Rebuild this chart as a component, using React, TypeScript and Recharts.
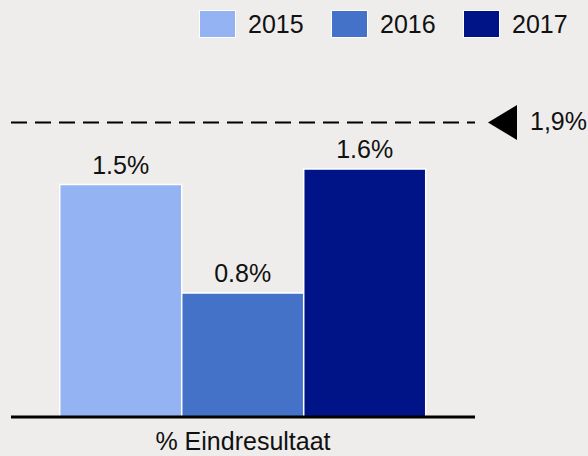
import { Bar, BarChart, LabelList, Legend, ReferenceLine, XAxis, YAxis } from "recharts";

const categories = ["% Eindresultaat"];
const years = ["2015", "2016", "2017"];
const values2015 = [1.5];
const values2016 = [0.8];
const values2017 = [1.6];
const target = 1.9;
const targetLabel = "1,9%";

const colors = ["#93b3f3", "#4472c8", "#001487"];
const font = "'Liberation Sans', Arial, sans-serif";

const data = categories.map((name, i) => ({
  name,
  y2015: values2015[i],
  y2016: values2016[i],
  y2017: values2017[i],
}));

const fmt = (v: number) => `${v.toFixed(1)}%`;

function LegendBox() {
  return (
    <div
      style={{
        display: "flex",
        justifyContent: "flex-end",
        alignItems: "center",
        height: 40,
        paddingTop: 8,
        paddingRight: 18,
        boxSizing: "border-box",
        fontFamily: font,
        fontSize: 25,
        color: "#111",
      }}
    >
      {years.map((y, i) => (
        <div key={y} style={{ display: "flex", alignItems: "center", marginLeft: i ? 25 : 0 }}>
          <div
            style={{
              width: 35,
              height: 26,
              background: colors[i],
              border: "1.5px solid #fff",
              marginRight: 12,
            }}
          />
          <span style={{ display: "inline-block", width: 58 }}>{y}</span>
        </div>
      ))}
    </div>
  );
}

function TargetMark(props: any) {
  const { viewBox } = props;
  const x = viewBox.x + viewBox.width + 13;
  const y = viewBox.y;
  return (
    <g>
      <polygon points={`${x},${y} ${x + 29},${y - 17.5} ${x + 29},${y + 17.5}`} fill="#000" />
      <text x={x + 42} y={y + 7} fontSize={25} fontFamily={font} fill="#111">
        {targetLabel}
      </text>
    </g>
  );
}

export default function App() {
  return (
    <div
      style={{
        position: "absolute",
        left: 0,
        top: 0,
        width: 588,
        height: 456,
        background: "#eeedeb",
      }}
    >
      <BarChart
        width={588}
        height={456}
        data={data}
        margin={{ top: 5, right: 113, bottom: 0, left: 11 }}
        barCategoryGap="10.5%"
        barGap={0}
      >
        <Legend
          verticalAlign="top"
          align="right"
          content={<LegendBox />}
          wrapperStyle={{ left: 0, top: 0, width: 588 }}
        />
        <XAxis
          dataKey="name"
          height={39}
          axisLine={{ stroke: "#000", strokeWidth: 3 }}
          tickLine={false}
          tickMargin={9}
          tick={{ fill: "#111", fontSize: 25, fontFamily: font }}
        />
        <YAxis hide domain={[0, 2.4]} />
        <ReferenceLine
          y={target}
          stroke="#000"
          strokeWidth={2}
          strokeDasharray="16 8"
          label={<TargetMark />}
        />
        {years.map((y, i) => (
          <Bar
            key={y}
            dataKey={`y${y}`}
            name={y}
            fill={colors[i]}
            stroke="#fff"
            strokeWidth={1.5}
            isAnimationActive={false}
          >
            <LabelList
              dataKey={`y${y}`}
              position="top"
              offset={11}
              formatter={fmt}
              style={{ fill: "#111", fontSize: 25, fontFamily: font }}
            />
          </Bar>
        ))}
      </BarChart>
    </div>
  );
}
